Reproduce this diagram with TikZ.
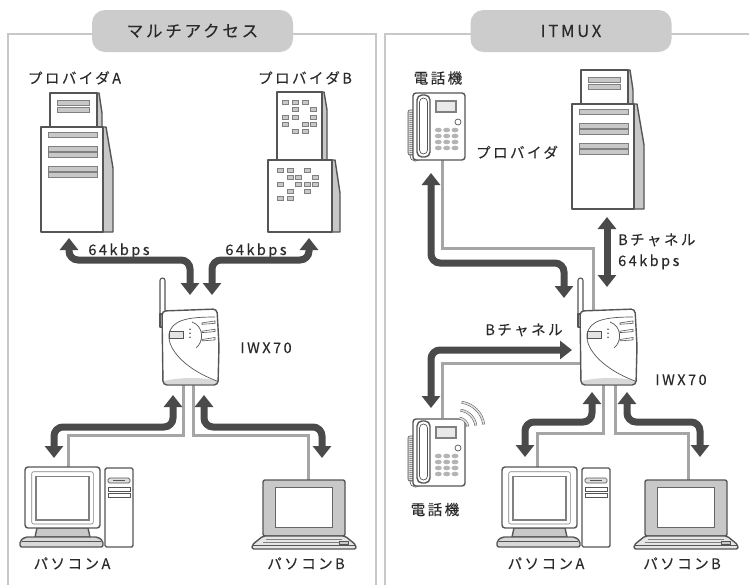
\documentclass[tikz,border=0pt]{standalone}
\usepackage{fontspec}
\newfontfamily\jpfont{Noto Sans CJK JP}[LetterSpace=17,FakeBold=0.15]
\usetikzlibrary{arrows.meta}
\definecolor{ink}{HTML}{2A2A2A}
\definecolor{edge}{HTML}{555555}
\definecolor{shade}{HTML}{C8C8C8}
\definecolor{keycol}{HTML}{B4B4B4}
\definecolor{frame}{HTML}{C8C8C8}
\definecolor{pill}{HTML}{CCCCCC}
\definecolor{flow}{HTML}{4A4A4A}
\definecolor{wire}{HTML}{A5A5A5}
\begin{document}
\begin{tikzpicture}[x=1pt,y=-1pt,
  outline/.style={draw=edge,line width=1.4pt,line join=round},
  thin/.style={draw=edge,line width=0.7pt},
  cell/.style={draw=gray,fill=shade,line width=0.5pt},
  panel/.style={draw=frame,line width=2pt},
  header/.style={fill=pill,rounded corners=13pt,minimum width=201pt,minimum height=42pt,
    inner sep=0pt,text height=12pt,text depth=0pt,
    font=\jpfont\fontsize{16.5}{16.5}\selectfont,text=ink},
  lbl/.style={font=\jpfont\fontsize{14.5}{14.5}\selectfont,text=ink,inner sep=0pt,anchor=base,yshift=-5pt},
  lblw/.style={lbl,anchor=base west},
  cable/.style={draw=wire,line width=3pt},
  flowarrow/.style={draw=flow,line width=7pt,rounded corners=9pt,
    {Triangle[width=18pt,length=12pt]}-{Triangle[width=18pt,length=12pt]}},
  % tower server with striped front panels
  stripe server/.pic={
    \filldraw[outline,fill=shade] (62,0) -- (65,0) -- (72,41) -- (72,105) -- (62,105) -- cycle;
    \filldraw[outline,fill=shade] (56,-34) -- (58,-34) -- (61,-14) -- (61,0) -- (56,0) -- cycle;
    \filldraw[outline,fill=white] (9,-34) rectangle (56,0);
    \filldraw[outline,fill=white] (0,0) rectangle (62,105);
    \foreach \y in {-27,-20} \filldraw[cell] (16,\y) rectangle (48,\y+5);
    \foreach \y in {5,19,25,39,45} \filldraw[cell] (7,\y) rectangle (56,\y+5);
  },
  % server with small blocks on its front
  block server/.pic={
    \filldraw[outline,fill=shade] (54,-68) -- (56,-68) -- (59,-50) -- (59,0) -- (54,0) -- cycle;
    \filldraw[outline,fill=white] (9,-68) rectangle (54,0);
    \filldraw[outline,fill=shade] (64,0) -- (67,0) -- (72,33) -- (72,72) -- (64,72) -- cycle;
    \filldraw[outline,fill=white] (0,0) rectangle (64,72);
    \foreach \x/\y in {14/-60,24/-60,34/-60,24/-53,42/-53,14/-45,24/-45,42/-45,
                       14/-38,34/-38,42/-38,24/-31,34/-31,
                       9/8,19/8,36/8,19/15,27/15,44/15,9/22,27/22,36/22,44/22,
                       19/29,36/29,9/36,19/36}
      \filldraw[cell] (\x,\y) rectangle ++(6.5,4);
  },
  % wireless router with antenna
  router/.pic={
    \filldraw[outline,fill=white,line width=1.1pt,rounded corners=2.5pt] (-2,-32) rectangle (3,12);
    \filldraw[outline,fill=white,line width=1.1pt] (-2,4) rectangle (1,17);
    \fill[white,rounded corners=4pt] (0,1) -- (55,-1) -- (57,36) -- (56,75) -- (1,75) -- cycle;
    \fill[shade!70] (1.5,74) -- (1.5,71) .. controls (20,67) and (40,67) .. (56,71) -- (56,74) -- cycle;
    \draw[outline,rounded corners=4pt] (0,1) -- (55,-1) -- (57,36) -- (56,75) -- (1,75) -- cycle;
    \draw[thin] (53,7) .. controls (25,7) and (10,10) .. (7,24) .. controls (5,40) and (25,60) .. (55,71);
    \draw[thin] (30,12) .. controls (42,16) and (42,32) .. (34,38);
    \filldraw[thin,fill=shade!50] (7.5,21.5) rectangle (21,28.5);
    \foreach \y in {19.3,23.3,27.3} \fill[edge] (28,\y) circle (0.9);
    \foreach \y in {11.7,20,28.3}
      \filldraw[thin,fill=white,line width=0.6pt] (40,\y+1.2) -- (53,\y-0.8) -- (53,\y+1.6) -- (40,\y+2.6) -- cycle;
  },
  % desk telephone
  phone/.pic={
    \filldraw[draw=edge,fill=shade!50,line width=0.6pt,rounded corners=2pt] (-5,17) rectangle (2,62);
    \foreach \k in {0,...,21} \draw[edge,line width=0.4pt] (-5,19+2*\k) -- (2,20+2*\k);
    \draw[edge,line width=0.6pt] (-3,62) .. controls (-3,70) and (7,70) .. (9,63);
    \filldraw[outline,fill=white,rounded corners=3pt] (0,0) rectangle (52,67);
    \filldraw[outline,fill=white,rounded corners=5pt] (4,2) rectangle (17,64);
    \draw[thin,rounded corners=4pt] (6.5,5) rectangle (14.5,61);
    \filldraw[draw=gray,line width=1.6pt,fill=shade!40] (23,8) rectangle (43,19);
    \draw[thin] (45,29) circle (3);
    \foreach \cx in {25.3,33.7,42} \foreach \cy in {37,43,49,55}
      \fill[keycol] (\cx,\cy) ellipse (3.5 and 2.3);
  },
  % desktop computer: monitor and tower
  desktop/.pic={
    \filldraw[outline,fill=white,rounded corners=1.5pt] (80,1) rectangle (108,80);
    \filldraw[thin,fill=shade!60,rounded corners=1.5pt] (83,11) rectangle (105,16);
    \draw[thin] (88,13.5) -- (100,13.5);
    \filldraw[thin,fill=white] (83,20) rectangle (105,24);
    \filldraw[thin,fill=white] (83,26) rectangle (105,30);
    \filldraw[outline,fill=shade] (12,61) -- (63,61) -- (65,70) -- (10,70) -- cycle;
    \filldraw[outline,fill=shade!70,rounded corners=2pt] (-5,80) -- (-5,74) -- (0,70) -- (73,70) -- (78,74) -- (78,80) -- cycle;
    \draw[thin] (-3,74) -- (76,74);
    \filldraw[outline,fill=white,rounded corners=3pt] (0,0) rectangle (75,61);
    \draw[draw=gray,line width=0.6pt,rounded corners=2pt] (6.7,4.7) rectangle (68.3,57);
    \filldraw[draw=gray,line width=1.5pt,fill=white] (11,9.7) rectangle (64,53);
  },
  % notebook computer
  laptop/.pic={
    \filldraw[outline,fill=shade,rounded corners=2pt] (0,0) rectangle (82,56);
    \filldraw[draw=gray!80!black,line width=1pt,fill=white] (12,7) rectangle (69,47);
    \filldraw[outline,fill=shade!45,rounded corners=2pt] (0,56) -- (82,56) -- (93,65) -- (93,69) -- (-11,69) -- (-11,65) -- cycle;
    \draw[gray,line width=0.6pt] (3,59) -- (79,59);
    \draw[gray,line width=0.6pt] (0,62) -- (83,62);
    \draw[edge,line width=0.6pt] (-10,65) -- (92,65);
    \filldraw[thin,fill=shade,line width=0.5pt] (76,61.5) rectangle (85,64);
  }
]
\useasboundingbox (0,0) rectangle (749,584);
\fill[white] (0,0) rectangle (749,584);

% panel frames and titles
\draw[panel] (8,590) -- (8,34) -- (376,34) -- (376,590);
\draw[panel] (385,590) -- (385,34) -- (755,34);
\node[header] (ttlL) at (192.5,31) {マルチアクセス};
\node[header] (ttlR) at (571,31) {ITMUX};

% ---------- left panel: multi access ----------
\coordinate (rtrL-o1) at (183,385);
\coordinate (rtrL-o2) at (193,385);
\coordinate (pcAL-top) at (68,467);
\coordinate (pcBL-top) at (308,480);
\draw[cable] (rtrL-o1) -- ++(0,50.5) -| (pcAL-top);
\draw[cable] (rtrL-o2) -- ++(0,50.5) -| (pcBL-top);

\pic (srvA) at (41,127) {stripe server};
\pic (srvB) at (268,160) {block server};
\pic (rtrL) at (162,310) {router};
\pic (pcAL) at (25,467) {desktop};
\pic (pcBL) at (263,480) {laptop};

\node[lbl] (lblA) at (74.5,78.5) {プロバイダA};
\node[lbl] (lblB) at (305,78.5) {プロバイダB};
\node[lbl] (bwA) at (119,250) {64kbps};
\node[lbl] (bwB) at (256,250) {64kbps};
\node[lbl] (nameL) at (266,348) {IWX70};
\node[lbl] (lblPA) at (72,564) {パソコンA};
\node[lbl] (lblPB) at (306,564) {パソコンB};

\coordinate (srvA-tip) at (69,238);
\coordinate (srvB-tip) at (309,238);
\coordinate (rtrL-i1) at (190,295);
\coordinate (rtrL-i2) at (212,295);
\coordinate (rtrL-d1) at (173,395);
\coordinate (rtrL-d2) at (204,395);
\coordinate (pcAL-tip) at (54,458);
\coordinate (pcBL-tip) at (322,458);
\draw[flowarrow] (srvA-tip) -- ++(0,22) -| (rtrL-i1);
\draw[flowarrow] (srvB-tip) -- ++(0,22) -| (rtrL-i2);
\draw[flowarrow] (rtrL-d1) -- ++(0,32) -| (pcAL-tip);
\draw[flowarrow] (rtrL-d2) -- ++(0,32) -| (pcBL-tip);

% ---------- right panel: ITMUX ----------
\coordinate (telT-jack) at (442,160);
\coordinate (rtrR-top) at (593,310);
\coordinate (rtrR-side) at (580,363);
\coordinate (telB-jack) at (442,418);
\coordinate (rtrR-o1) at (603,385);
\coordinate (rtrR-o2) at (615,385);
\coordinate (pcAR-top) at (537,467);
\coordinate (pcBR-top) at (688,480);
\draw[cable] (telT-jack) -- ++(0,88) -| (rtrR-top);
\draw[cable] (rtrR-side) -| (telB-jack);
\draw[cable] (rtrR-o1) -- ++(0,48) -| (pcAR-top);
\draw[cable] (rtrR-o2) -- ++(0,48) -| (pcBR-top);

\pic (telT) at (413,93) {phone};
\pic (telB) at (413,419) {phone};
\pic (srvP) at (572,104) {stripe server};
\pic (rtrR) at (580,310) {router};
\pic (pcAR) at (502,467) {desktop};
\pic (pcBR) at (645,480) {laptop};

% ringing waves beside the lower telephone
\foreach \r in {10,18,26}
  \draw[draw=edge,line width=0.5pt,double=shade!60,double distance=1.6pt]
    (458,428) ++(-8:\r) arc[start angle=-8,end angle=-82,radius=\r];

\node[lbl] (lblTT) at (438,78.5) {電話機};
\node[lbl] (lblP) at (517,153) {プロバイダ};
\node[lblw] (chP) at (618,240) {Bチャネル};
\node[lblw] (bwP) at (618,261) {64kbps};
\node[lbl] (chT) at (524,330) {Bチャネル};
\node[lbl] (nameR) at (681,380) {IWX70};
\node[lbl] (lblTB) at (435,510) {電話機};
\node[lbl] (lblPC) at (546,564) {パソコンA};
\node[lbl] (lblPD) at (682,564) {パソコンB};

\coordinate (telT-tip) at (431,173);
\coordinate (rtrR-i1) at (564,298);
\coordinate (srvP-tip) at (607,217);
\coordinate (rtrR-i2) at (607,287);
\coordinate (rtrR-i3) at (572,350);
\coordinate (telB-tip) at (431,408);
\coordinate (rtrR-d1) at (592,392);
\coordinate (rtrR-d2) at (627,392);
\coordinate (pcAR-tip) at (525,457);
\coordinate (pcBR-tip) at (700,457);
\draw[flowarrow] (telT-tip) -- ++(0,90) -| (rtrR-i1);
\draw[flowarrow] (srvP-tip) -- (rtrR-i2);
\draw[flowarrow] (rtrR-i3) -| (telB-tip);
\draw[flowarrow] (rtrR-d1) -- ++(0,30) -| (pcAR-tip);
\draw[flowarrow] (rtrR-d2) -- ++(0,30) -| (pcBR-tip);
\end{tikzpicture}
\end{document}
